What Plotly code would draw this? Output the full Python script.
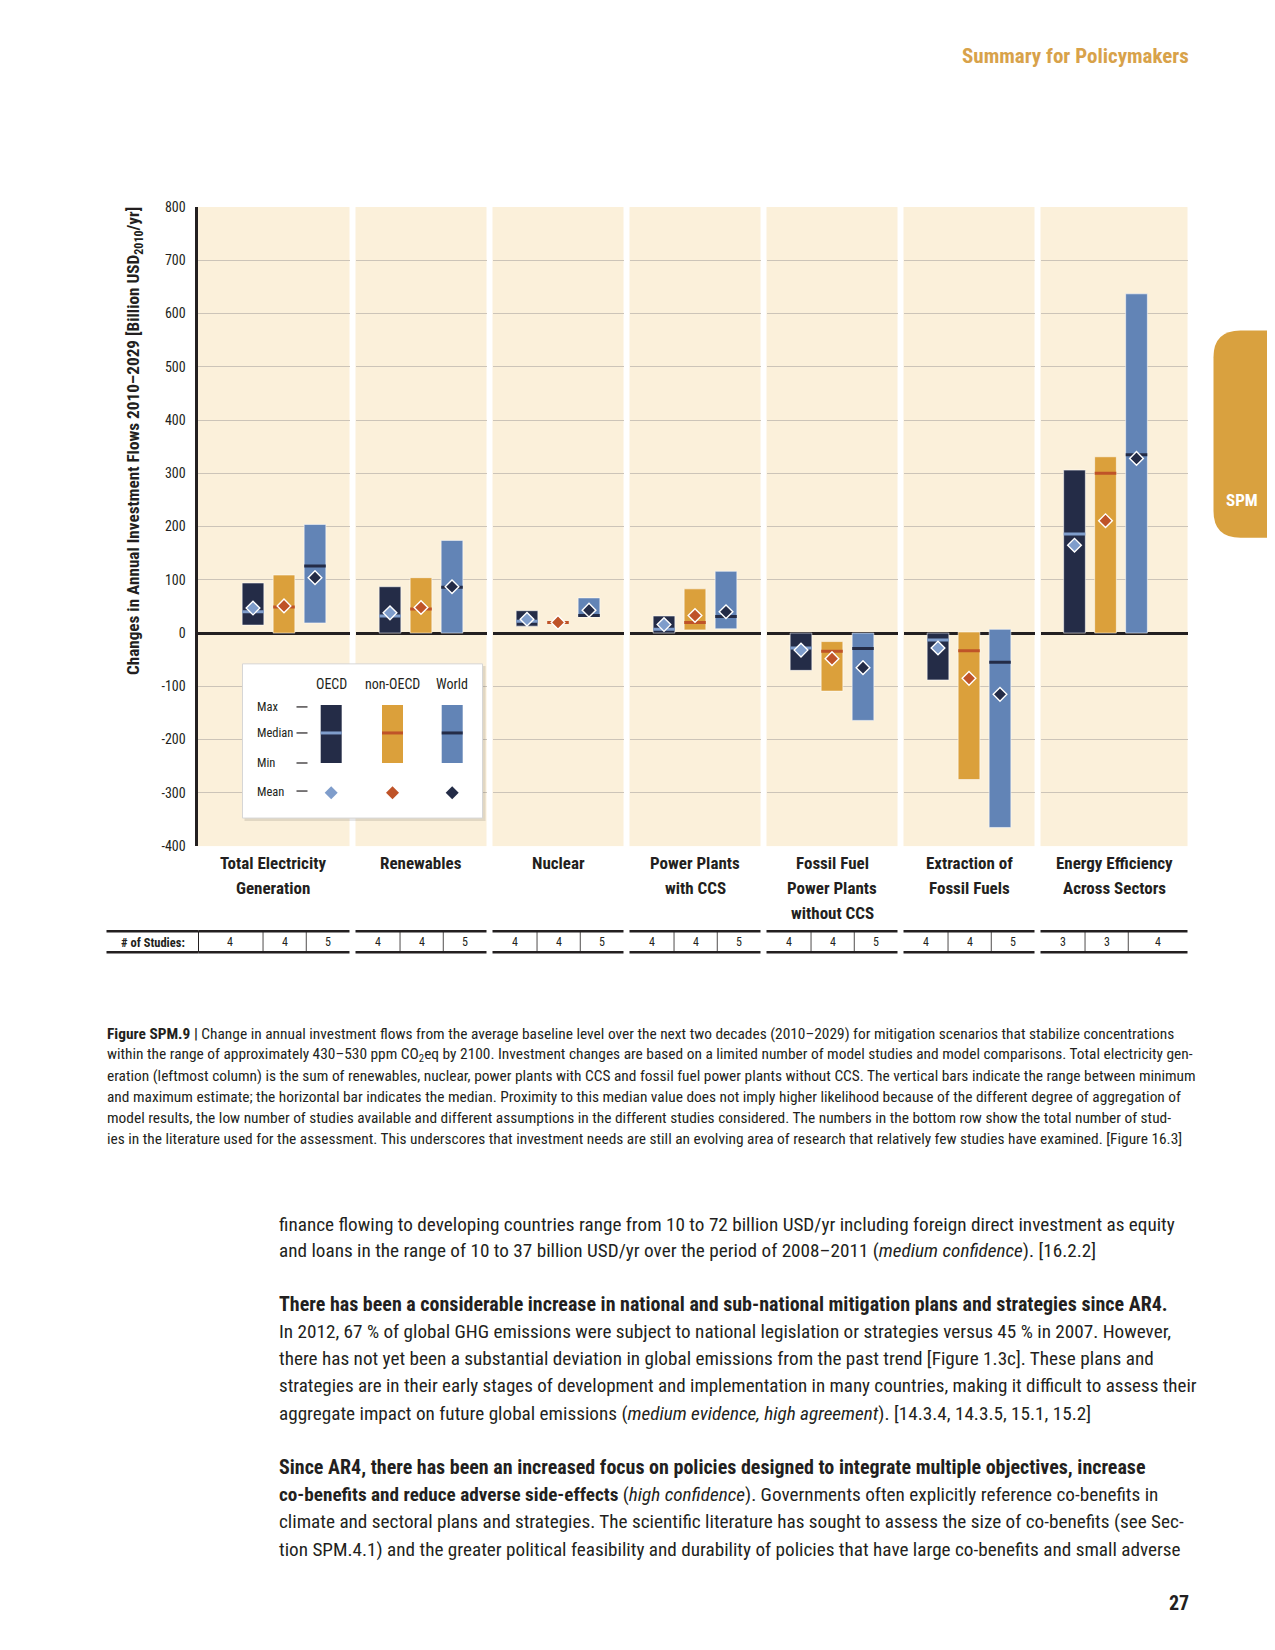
import plotly.graph_objects as go

# ---------------- data ----------------
categories = ["Total Electricity<br>Generation", "Renewables", "Nuclear",
              "Power Plants<br>with CCS", "Fossil Fuel<br>Power Plants<br>without CCS",
              "Extraction of<br>Fossil Fuels", "Energy Efficiency<br>Across Sectors"]
regions = ["OECD", "non-OECD", "World"]

oecd_max = [94, 87, 42, 32, 0, 0, 306]
oecd_min = [15, 0, 13, 0, -70, -88, 0]
oecd_median = [40, 32, 22, 7, -28, -13, 186]
oecd_mean = [47, 38, 26, 16, -32, -28, 165]

non_max = [109, 104, 20, 83, -16, 2, 331]
non_min = [0, 0, 20, 6, -109, -275, 0]
non_median = [49, 45, 20, 20, -34, -33, 300]
non_mean = [51, 48, 20, 33, -48, -85, 211]

world_max = [204, 174, 66, 116, 0, 7, 637]
world_min = [19, 0, 30, 8, -164, -365, 0]
world_median = [126, 86, 33, 31, -29, -55, 335]
world_mean = [104, 87, 43, 40, -65, -115, 328]

studies_oecd = [4, 4, 4, 4, 4, 4, 3]
studies_non = [4, 4, 4, 4, 4, 4, 3]
studies_world = [5, 5, 5, 5, 5, 5, 4]

y_tick_vals = [800, 700, 600, 500, 400, 300, 200, 100, 0, -100, -200, -300, -400]
y_tick_text = ["800", "700", "600", "500", "400", "300", "200", "100", "0",
               "-100", "-200", "-300", "-400"]

# ---------------- styling ----------------
PAGE_W, PAGE_H = 1275, 1650
MARGIN = 8                       # default body margin of the html page
W, H = PAGE_W - 2 * MARGIN, PAGE_H - 2 * MARGIN
VSCALE = 0.989                   # empirical vertical correction of the photographed page
XSHIFT = 1.5
NAVY = "#242C47"
GOLD = "#DBA03B"
BLUE = "#6284B6"
LIGHTBLUE = "#7F9DCB"
RUST = "#BF5328"
CREAM = "#FBF0DA"
INK = "#231F20"
GRID = "#CCC4B8"
HEAD = "#D8A24A"
FONT = "Liberation Sans Narrow, Roboto Condensed, Arial Narrow, Roboto, sans-serif"


def X(px):
    return (px + XSHIFT - MARGIN) / W


def Y(py):
    return 1 - ((py - MARGIN) / VSCALE - MARGIN) / H


PLOT_TOP, PLOT_BOTTOM = 206.7, 845.0
panel_left = [196, 354, 491, 628, 765, 902, 1039]
panel_right = [348, 485, 622, 759, 896, 1033, 1186]
mid_bar = [282.5, None, None, None, None, None, 1104]
CAT_PX = 31.0

fig = go.Figure()
layout_axes = {}
series = [
    (oecd_min, oecd_max, oecd_median, oecd_mean),
    (non_min, non_max, non_median, non_mean),
    (world_min, world_max, world_median, world_mean),
]
bar_colors = [NAVY, GOLD, BLUE]
median_colors = [LIGHTBLUE, RUST, NAVY]
mean_colors = [LIGHTBLUE, RUST, NAVY]

for i in range(len(categories)):
    sfx = "" if i == 0 else str(i + 1)
    xa, ya = "x" + sfx, "y" + sfx
    mins = [s[0][i] for s in series]
    maxs = [s[1][i] for s in series]
    meds = [s[2][i] for s in series]
    means = [s[3][i] for s in series]
    fig.add_trace(go.Bar(
        x=regions, y=[mx - mn for mn, mx in zip(mins, maxs)], base=mins, width=0.7,
        marker=dict(color=bar_colors,
                    line=dict(color="rgba(255,255,255,0.55)",
                              width=[1 if mx > mn else 0 for mn, mx in zip(mins, maxs)])),
        xaxis=xa, yaxis=ya, showlegend=False, hoverinfo="skip"))
    fig.add_trace(go.Scatter(
        x=regions, y=meds, mode="markers",
        marker=dict(symbol="line-ew", size=15.4, line=dict(width=3, color=median_colors)),
        xaxis=xa, yaxis=ya, showlegend=False, hoverinfo="skip"))
    fig.add_trace(go.Scatter(
        x=regions, y=means, mode="markers",
        marker=dict(symbol="diamond", size=10.5, color=mean_colors,
                    line=dict(color="white", width=1.4)),
        xaxis=xa, yaxis=ya, showlegend=False, hoverinfo="skip"))

    l, r = panel_left[i], panel_right[i]
    c = mid_bar[i] if mid_bar[i] is not None else (l + r) / 2
    xr = [1 - (c - l) / CAT_PX, 1 + (r - c) / CAT_PX]
    layout_axes["xaxis" + sfx] = dict(
        domain=[X(l), X(r)], range=xr, showticklabels=False, showgrid=False,
        zeroline=False, showline=False, ticks="", anchor=ya, fixedrange=True)
    layout_axes["yaxis" + sfx] = dict(
        domain=[Y(PLOT_BOTTOM), Y(PLOT_TOP)], range=[-400, 800],
        tickmode="array", tickvals=y_tick_vals, ticktext=y_tick_text,
        showticklabels=(i == 0), showgrid=True, gridcolor=GRID, gridwidth=1,
        zeroline=True, zerolinecolor=INK, zerolinewidth=2.5,
        showline=(i == 0), linecolor=INK, linewidth=3, ticks="",
        ticklabelstandoff=6, anchor=xa, fixedrange=True,
        tickfont=dict(family=FONT, size=14, color=INK))

shapes = []
annotations = []


def text(x, y, t, size, color=INK, xanchor="center", yanchor="middle", angle=0, family=FONT):
    annotations.append(dict(x=X(x), y=Y(y), xref="paper", yref="paper", text=t,
                            showarrow=False, xanchor=xanchor, yanchor=yanchor,
                            textangle=angle, borderpad=0,
                            font=dict(family=family, size=size, color=color)))


# header
text(1188, 56, "<b>Summary for Policymakers</b>", 21, HEAD, xanchor="right")

# SPM tab
x0, x1, y0, y1, rr = 1212, 1290, 330, 537, 27
rx, ry = rr / W, rr / H
path = (f"M {X(x1)},{Y(y0)} L {X(x0)+rx},{Y(y0)} Q {X(x0)},{Y(y0)} {X(x0)},{Y(y0)-ry} "
        f"L {X(x0)},{Y(y1)+ry} Q {X(x0)},{Y(y1)} {X(x0)+rx},{Y(y1)} L {X(x1)},{Y(y1)} Z")
shapes.append(dict(type="path", path=path, xref="paper", yref="paper",
                   fillcolor="#D9A13F", line=dict(width=0), layer="above"))
text(1240, 499, "<b>SPM</b>", 17, "white")

# y axis title
text(133, 441, "<b>Changes in Annual Investment Flows 2010\u20132029 [Billion USD<sub>2010</sub>/yr]</b>",
     17.2, INK, angle=-90)

# category labels
for i, cat in enumerate(categories):
    l, r = panel_left[i], panel_right[i]
    cx = (l + r) / 2 if i != 0 else 271
    for j, line in enumerate(cat.split("<br>")):
        text(cx, 862 + 25 * j, f"<b>{line}</b>", 17, INK)

# legend box
lx0, lx1, ly0, ly1 = 241, 481, 663, 817
shapes.append(dict(type="rect", xref="paper", yref="paper", x0=X(lx0 + 2), x1=X(lx1 + 3),
                   y0=Y(ly0 + 2), y1=Y(ly1 + 3), fillcolor="rgba(0,0,0,0.10)",
                   line=dict(width=0), layer="above"))
shapes.append(dict(type="rect", xref="paper", yref="paper", x0=X(lx0), x1=X(lx1),
                   y0=Y(ly0), y1=Y(ly1), fillcolor="white",
                   line=dict(width=1, color="#D6D6D6"), layer="above"))
leg_cx = [329.7, 391, 450.7]
for k, name in enumerate(regions):
    cx = leg_cx[k]
    text(cx, 683, name, 14, INK)
    shapes.append(dict(type="rect", xref="paper", yref="paper", x0=X(cx - 10.5), x1=X(cx + 10.5),
                       y0=Y(704), y1=Y(762), fillcolor=bar_colors[k], line=dict(width=0),
                       layer="above"))
    shapes.append(dict(type="rect", xref="paper", yref="paper", x0=X(cx - 10.5), x1=X(cx + 10.5),
                       y0=Y(730.5), y1=Y(733.5), fillcolor=median_colors[k], line=dict(width=0),
                       layer="above"))
    h = 6.5
    dpath = (f"M {X(cx)},{Y(791.7 - h)} L {X(cx + h)},{Y(791.7)} "
             f"L {X(cx)},{Y(791.7 + h)} L {X(cx - h)},{Y(791.7)} Z")
    shapes.append(dict(type="path", path=dpath, xref="paper", yref="paper",
                       fillcolor=mean_colors[k], line=dict(width=0), layer="above"))
for lab, yy in [("Max", 706), ("Median", 732), ("Min", 762), ("Mean", 790)]:
    text(254, yy, lab, 12.5, INK, xanchor="left")
    shapes.append(dict(type="line", xref="paper", yref="paper", x0=X(295), x1=X(306),
                       y0=Y(yy), y1=Y(yy), line=dict(color=INK, width=1.2), layer="above"))

# studies table
T_TOP, T_BOT, T_MID = 930, 951, 941
shapes.append(dict(type="line", xref="paper", yref="paper", x0=X(105), x1=X(197),
                   y0=Y(T_TOP), y1=Y(T_TOP), line=dict(color=INK, width=2.5)))
shapes.append(dict(type="line", xref="paper", yref="paper", x0=X(105), x1=X(197),
                   y0=Y(T_BOT), y1=Y(T_BOT), line=dict(color=INK, width=2.5)))
shapes.append(dict(type="line", xref="paper", yref="paper", x0=X(197), x1=X(197),
                   y0=Y(T_TOP), y1=Y(T_BOT), line=dict(color=INK, width=1)))
text(151, T_MID, "<b># of Studies:</b>", 12.5, INK)
for i in range(len(categories)):
    l, r = panel_left[i], panel_right[i]
    core = r - 131 if i == 0 else l
    d1, d2 = core + 0.34 * 131, core + 0.67 * 131
    left_edge = l + 1 if i == 0 else l
    for yy in (T_TOP, T_BOT):
        shapes.append(dict(type="line", xref="paper", yref="paper", x0=X(left_edge), x1=X(r),
                           y0=Y(yy), y1=Y(yy), line=dict(color=INK, width=2.5)))
    for d in (d1, d2):
        shapes.append(dict(type="line", xref="paper", yref="paper", x0=X(d), x1=X(d),
                           y0=Y(T_TOP), y1=Y(T_BOT), line=dict(color=INK, width=0.8)))
    vals = [studies_oecd[i], studies_non[i], studies_world[i]]
    for (a, b), v in zip([(l, d1), (d1, d2), (d2, r)], vals):
        text((a + b) / 2, T_MID, str(v), 12, INK)

# caption
caption = [
    "<b>Figure SPM.9 |</b> Change in annual investment flows from the average baseline level over the next two decades (2010\u20132029) for mitigation scenarios that stabilize concentrations",
    "within the range of approximately 430\u2013530 ppm CO<sub>2</sub>eq by 2100. Investment changes are based on a limited number of model studies and model comparisons. Total electricity gen-",
    "eration (leftmost column) is the sum of renewables, nuclear, power plants with CCS and fossil fuel power plants without CCS. The vertical bars indicate the range between minimum",
    "and maximum estimate; the horizontal bar indicates the median. Proximity to this median value does not imply higher likelihood because of the different degree of aggregation of",
    "model results, the low number of studies available and different assumptions in the different studies considered. The numbers in the bottom row show the total number of stud-",
    "ies in the literature used for the assessment. This underscores that investment needs are still an evolving area of research that relatively few studies have examined. [Figure 16.3]",
]
cap_y = [1033, 1054, 1075, 1096, 1117, 1138]
for t, yy in zip(caption, cap_y):
    text(104, yy, t, 15.4, INK, xanchor="left")

body = [
    ("finance flowing to developing countries range from 10 to 72 billion USD/yr including foreign direct investment as equity", 1222.5, 19.2),
    ("and loans in the range of 10 to 37 billion USD/yr over the period of 2008\u20132011 (<i>medium confidence</i>). [16.2.2]", 1249, 19.2),
    ("<b>There has been a considerable increase in national and sub-national mitigation plans and strategies since AR4.</b>", 1302, 20.0),
    ("In 2012, 67 % of global GHG emissions were subject to national legislation or strategies versus 45 % in 2007. However,", 1330, 19.2),
    ("there has not yet been a substantial deviation in global emissions from the past trend [Figure 1.3c]. These plans and", 1357, 19.2),
    ("strategies are in their early stages of development and implementation in many countries, making it difficult to assess their", 1384, 19.0),
    ("aggregate impact on future global emissions (<i>medium evidence, high agreement</i>). [14.3.4, 14.3.5, 15.1, 15.2]", 1412, 19.2),
    ("<b>Since AR4, there has been an increased focus on policies designed to integrate multiple objectives, increase</b>", 1465, 20.0),
    ("<b>co-benefits and reduce adverse side-effects</b> (<i>high confidence</i>). Governments often explicitly reference co-benefits in", 1493, 19.2),
    ("climate and sectoral plans and strategies. The scientific literature has sought to assess the size of co-benefits (see Sec-", 1520, 19.2),
    ("tion SPM.4.1) and the greater political feasibility and durability of policies that have large co-benefits and small adverse", 1547.5, 19.2),
]
for t, yy, sz in body:
    text(276, yy, t, sz, INK, xanchor="left")

text(1188, 1601, "<b>27</b>", 20, INK, xanchor="right")

fig.update_layout(
    width=W, height=H, margin=dict(l=0, r=0, t=0, b=0),
    paper_bgcolor="white", plot_bgcolor=CREAM, showlegend=False,
    shapes=shapes, annotations=annotations, font=dict(family=FONT, color=INK),
    **layout_axes)

fig.write_html("out.html")
